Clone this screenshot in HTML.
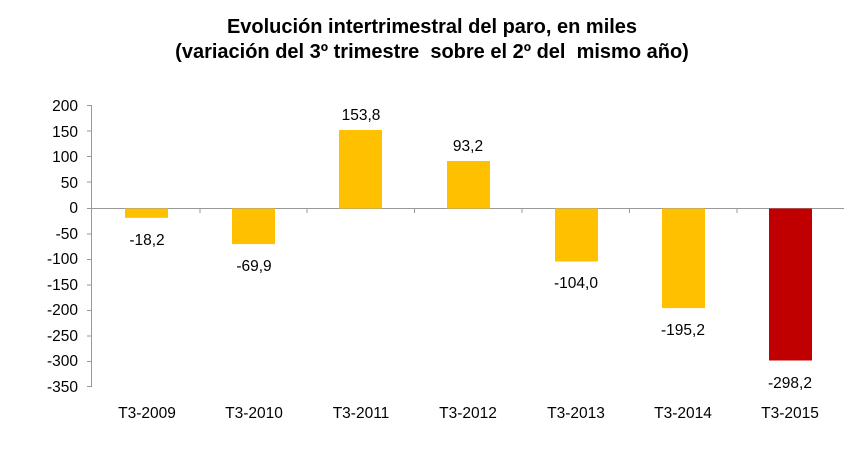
<!DOCTYPE html>
<html><head><meta charset="utf-8"><style>body{margin:0;background:#fff}</style></head><body>
<svg width="865" height="455" xmlns="http://www.w3.org/2000/svg" font-family="Liberation Sans, sans-serif">
<text x="432" y="33" text-anchor="middle" font-size="20" font-weight="bold">Evolución intertrimestral del paro, en miles</text>
<text x="432" y="58" text-anchor="middle" font-size="20" font-weight="bold" style="white-space:pre">(variación del 3º trimestre  sobre el 2º del  mismo año)</text>
<g stroke="#999" stroke-width="1">
<line x1="91.5" y1="105" x2="91.5" y2="387"/>
<line x1="91" y1="208.5" x2="844" y2="208.5"/>
</g>
<g font-size="15.5" text-anchor="end" fill="#000">
<text x="78" y="111">200</text><text x="78" y="137">150</text><text x="78" y="162">100</text><text x="78" y="188">50</text><text x="78" y="213">0</text><text x="78" y="239">-50</text><text x="78" y="264">-100</text><text x="78" y="290">-150</text><text x="78" y="315">-200</text><text x="78" y="341">-250</text><text x="78" y="366">-300</text><text x="78" y="392">-350</text>
</g>
<g stroke="#999">
<line x1="87" y1="105.5" x2="91" y2="105.5"/><line x1="87" y1="131" x2="91" y2="131"/><line x1="87" y1="156.5" x2="91" y2="156.5"/><line x1="87" y1="182" x2="91" y2="182"/><line x1="87" y1="208.5" x2="91" y2="208.5"/><line x1="87" y1="234" x2="91" y2="234"/><line x1="87" y1="259.5" x2="91" y2="259.5"/><line x1="87" y1="285" x2="91" y2="285"/><line x1="87" y1="310.5" x2="91" y2="310.5"/><line x1="87" y1="336" x2="91" y2="336"/><line x1="87" y1="361.5" x2="91" y2="361.5"/><line x1="87" y1="386.5" x2="91" y2="386.5"/>
<line x1="200" y1="208" x2="200" y2="213"/><line x1="307" y1="208" x2="307" y2="213"/><line x1="414.5" y1="208" x2="414.5" y2="213"/><line x1="522" y1="208" x2="522" y2="213"/><line x1="629.5" y1="208" x2="629.5" y2="213"/><line x1="737" y1="208" x2="737" y2="213"/>
</g>
<g fill="#FFC000">
<rect x="125" y="208.5" width="43" height="9.3"/>
<rect x="232" y="208.5" width="43" height="35.6"/>
<rect x="339" y="130" width="43" height="78.5"/>
<rect x="447" y="161" width="43" height="47.5"/>
<rect x="555" y="208.5" width="43" height="53"/>
<rect x="662" y="208.5" width="43" height="99.6"/>
</g>
<rect x="769" y="208.5" width="43" height="152" fill="#C00000"/>
<g font-size="15.5" text-anchor="middle">
<text x="147" y="245">-18,2</text><text x="254" y="271">-69,9</text><text x="361" y="120">153,8</text><text x="468" y="151">93,2</text><text x="576" y="288">-104,0</text><text x="683" y="335">-195,2</text><text x="790" y="388">-298,2</text>
<text x="147" y="418">T3-2009</text><text x="254" y="418">T3-2010</text><text x="361" y="418">T3-2011</text><text x="468" y="418">T3-2012</text><text x="576" y="418">T3-2013</text><text x="683" y="418">T3-2014</text><text x="790" y="418">T3-2015</text>
</g>
</svg>
</body></html>
